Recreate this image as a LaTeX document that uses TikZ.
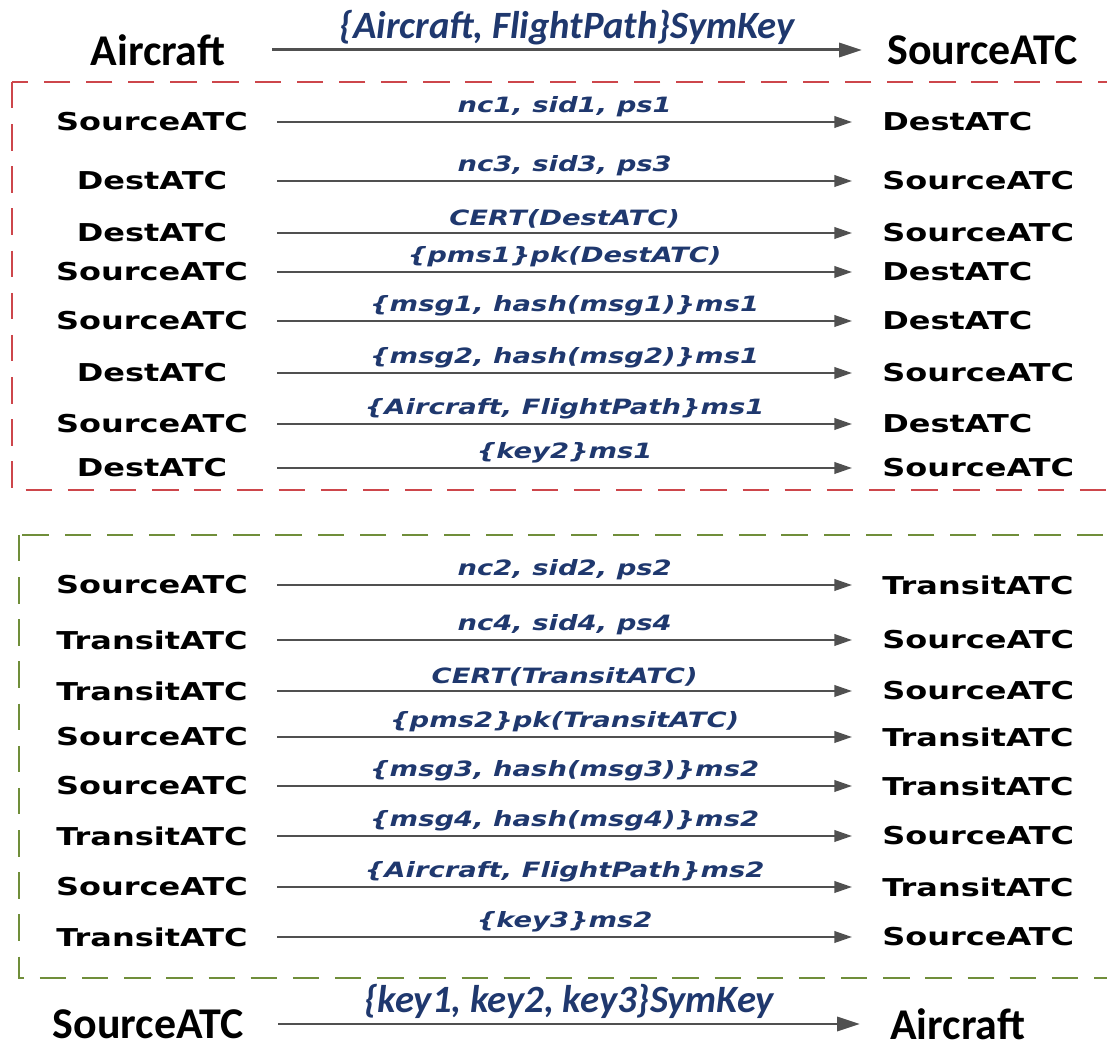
\documentclass[tikz,border=0pt]{standalone}
\usepackage{fontspec}
\usetikzlibrary{arrows.meta}
\newfontfamily\partyfont[FakeStretch=1.3]{DejaVu Sans}
\newfontfamily\calfont{Carlito}
\definecolor{msgblue}{RGB}{31,56,110}
\definecolor{boxred}{RGB}{205,70,75}
\definecolor{boxgreen}{RGB}{112,142,58}
\definecolor{arrowgray}{RGB}{80,80,80}
\tikzset{
  lparty/.style={minimum width=5cm, inner sep=0pt, font=\partyfont\bfseries\fontsize{14}{16}\selectfont},
  rparty/.style={anchor=west, text width=4.6cm, align=left, inner xsep=0.6cm, inner ysep=0pt, font=\partyfont\bfseries\fontsize{14}{16}\selectfont},
  msg/.style={draw=arrowgray, line width=1.3pt, -{Triangle[length=10pt,width=6.5pt]}},
  msglabel/.style={font=\partyfont\bfseries\itshape\fontsize{12}{14}\selectfont, text=msgblue, inner sep=2pt},
  bigparty/.style={inner sep=0pt, font=\calfont\bfseries\fontsize{25}{30}\selectfont},
  bigmsg/.style={draw=arrowgray, line width=1.7pt, -{Triangle[length=13pt,width=8pt]}},
  biglabel/.style={font=\calfont\bfseries\itshape\fontsize{22}{26}\selectfont, text=msgblue, inner sep=2pt},
  session/.style={line width=1.2pt, dash pattern=on 15pt off 9pt}
}
\begin{document}
\begin{tikzpicture}[x=0.02cm, y=-0.02cm]
\useasboundingbox (0,0) rectangle (1107,1050);
% session boxes
\draw[session, boxred] (12,82) rectangle (1130,490);
\draw[session, boxgreen] (19,535) rectangle (1130,978);

% aircraft to source
\node[bigparty, minimum width=4.56cm] (topL) at (158,50) {Aircraft};
\node[bigparty, anchor=west, inner xsep=0.5cm] (topR) at (862,50) {SourceATC};
\draw[bigmsg] (topL) -- (topR) node[midway, above, biglabel]{\{Aircraft, FlightPath\}SymKey};

% source and destination
\node[lparty] (dL1) at (152,122) {SourceATC};
\node[rparty] (dR1) at (852,122) {DestATC};
\node[lparty] (dL2) at (152,181) {DestATC};
\node[rparty] (dR2) at (852,181) {SourceATC};
\node[lparty] (dL3) at (152,233) {DestATC};
\node[rparty] (dR3) at (852,233) {SourceATC};
\node[lparty] (dL4) at (152,272) {SourceATC};
\node[rparty] (dR4) at (852,272) {DestATC};
\node[lparty] (dL5) at (152,321) {SourceATC};
\node[rparty] (dR5) at (852,321) {DestATC};
\node[lparty] (dL6) at (152,373) {DestATC};
\node[rparty] (dR6) at (852,373) {SourceATC};
\node[lparty] (dL7) at (152,424) {SourceATC};
\node[rparty] (dR7) at (852,424) {DestATC};
\node[lparty] (dL8) at (152,468) {DestATC};
\node[rparty] (dR8) at (852,468) {SourceATC};
\draw[msg] (dL1) -- (dR1) node[midway, above, msglabel]{nc1, sid1, ps1};
\draw[msg] (dL2) -- (dR2) node[midway, above, msglabel]{nc3, sid3, ps3};
\draw[msg] (dL3) -- (dR3) node[midway, above, msglabel]{CERT(DestATC)};
\draw[msg] (dL4) -- (dR4) node[midway, above, msglabel]{\{pms1\}pk(DestATC)};
\draw[msg] (dL5) -- (dR5) node[midway, above, msglabel]{\{msg1, hash(msg1)\}ms1};
\draw[msg] (dL6) -- (dR6) node[midway, above, msglabel]{\{msg2, hash(msg2)\}ms1};
\draw[msg] (dL7) -- (dR7) node[midway, above, msglabel]{\{Aircraft, FlightPath\}ms1};
\draw[msg] (dL8) -- (dR8) node[midway, above, msglabel]{\{key2\}ms1};

% source and transit
\node[lparty] (tL1) at (152,585) {SourceATC};
\node[rparty] (tR1) at (852,585) {TransitATC};
\node[lparty] (tL2) at (152,640) {TransitATC};
\node[rparty] (tR2) at (852,640) {SourceATC};
\node[lparty] (tL3) at (152,691) {TransitATC};
\node[rparty] (tR3) at (852,691) {SourceATC};
\node[lparty] (tL4) at (152,737) {SourceATC};
\node[rparty] (tR4) at (852,737) {TransitATC};
\node[lparty] (tL5) at (152,786) {SourceATC};
\node[rparty] (tR5) at (852,786) {TransitATC};
\node[lparty] (tL6) at (152,836) {TransitATC};
\node[rparty] (tR6) at (852,836) {SourceATC};
\node[lparty] (tL7) at (152,887) {SourceATC};
\node[rparty] (tR7) at (852,887) {TransitATC};
\node[lparty] (tL8) at (152,937) {TransitATC};
\node[rparty] (tR8) at (852,937) {SourceATC};
\draw[msg] (tL1) -- (tR1) node[midway, above, msglabel]{nc2, sid2, ps2};
\draw[msg] (tL2) -- (tR2) node[midway, above, msglabel]{nc4, sid4, ps4};
\draw[msg] (tL3) -- (tR3) node[midway, above, msglabel]{CERT(TransitATC)};
\draw[msg] (tL4) -- (tR4) node[midway, above, msglabel]{\{pms2\}pk(TransitATC)};
\draw[msg] (tL5) -- (tR5) node[midway, above, msglabel]{\{msg3, hash(msg3)\}ms2};
\draw[msg] (tL6) -- (tR6) node[midway, above, msglabel]{\{msg4, hash(msg4)\}ms2};
\draw[msg] (tL7) -- (tR7) node[midway, above, msglabel]{\{Aircraft, FlightPath\}ms2};
\draw[msg] (tL8) -- (tR8) node[midway, above, msglabel]{\{key3\}ms2};

% source back to aircraft
\node[bigparty, minimum width=5.2cm] (botL) at (148,1024) {SourceATC};
\node[bigparty, anchor=west, inner xsep=0.6cm] (botR) at (860,1024) {Aircraft};
\draw[bigmsg] (botL) -- (botR) node[midway, above, biglabel]{\{key1, key2, key3\}SymKey};
\end{tikzpicture}
\end{document}
